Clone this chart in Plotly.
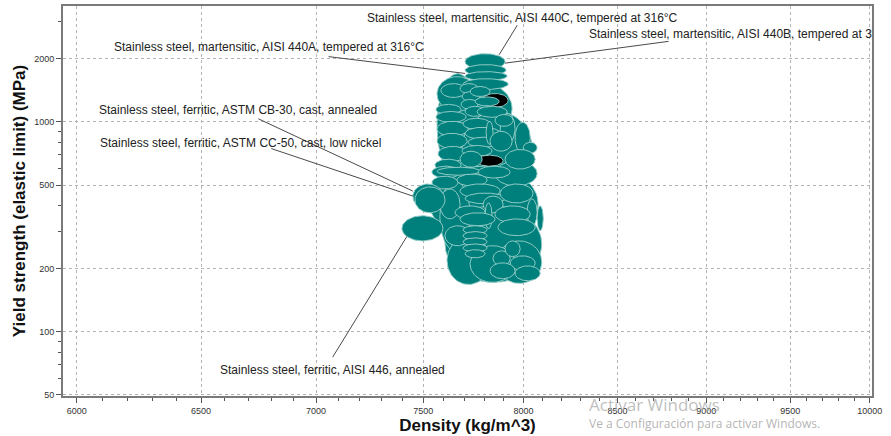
import math
import numpy as np
import plotly.graph_objects as go

# ---------------- data ----------------
# Each material is a range bubble: density range (kg/m^3) x yield-strength range (MPa),
# listed in drawing order (back to front).
dens_lo = [7567, 7606, 7690, 7532, 7606, 7581,
           7616, 7865, 7730, 7855, 7567, 7790, 7760, 7705, 7705, 7705,
           7695, 7586, 7562, 7562, 7567, 7567, 7572, 7557, 7542, 7567,
           7542, 7680, 7690, 7685, 7730, 7705, 7765, 7755, 7695, 7705,
           7720, 7690, 7810, 7881, 7855, 7830, 7957, 7999, 7906, 7680,
           7770, 7665, 7680, 7705, 7581, 7881, 7795, 7805, 8019, 8071,
           7655, 7680, 7855, 7870, 7606, 7695, 7695, 7695, 7695, 7705,
           7845, 7906, 7932, 7830, 7957, 7450, 7460, 7398]
dens_hi = [7770, 7942, 8045, 8076, 8095, 7730,
           7830, 8095, 7957, 8071, 7765, 7922, 7896, 7906, 7911, 7917,
           7922, 7710, 7685, 7710, 7720, 7715, 7720, 7685, 7680, 7780,
           7670, 7770, 7780, 7770, 7830, 7805, 7917, 7876, 7830, 7881,
           7870, 7840, 7845, 7957, 7947, 7942, 8035, 8071, 8061, 7790,
           7932, 7815, 7881, 7906, 7680, 8050, 7896, 7840, 8071, 8103,
           7805, 7855, 8035, 8061, 7730, 7815, 7815, 7815, 7815, 7805,
           7932, 7983, 8061, 7957, 8087, 7596, 7606, 7596]
ys_lo = [540, 854, 495, 271, 172, 243,
         168, 170, 172, 495, 1121, 1173, 615, 1775, 1661, 1573,
         1426, 1307, 1085, 995, 854, 747, 650, 583, 540, 557,
         479, 1365, 1251, 1148, 1321, 1062, 1051, 1190, 921, 827,
         756, 686, 781, 790, 952, 725, 709, 709, 596, 608,
         540, 495, 434, 407, 345, 411, 369, 310, 320, 303,
         345, 320, 331, 287, 257, 293, 274, 257, 240, 225,
         206, 228, 196, 179, 175, 385, 369, 271]
ys_hi = [1698, 1556, 1121, 615, 398, 522,
         284, 271, 257, 650, 1642, 1365, 694, 2112, 1874, 1735,
         1606, 1522, 1211, 1121, 1006, 882, 764, 664, 615, 608,
         551, 1522, 1395, 1279, 1474, 1186, 1186, 1315, 1040, 942,
         845, 772, 1006, 1097, 1085, 902, 995, 799, 739, 725,
         615, 564, 506, 458, 479, 506, 443, 411, 429, 398,
         398, 369, 398, 345, 320, 320, 300, 280, 262, 246,
         243, 271, 230, 213, 206, 506, 490, 357]
highlighted = [11, 12]  # indices of the two highlighted (black) bubbles

# labelled materials: point on the bubble the leader line touches
label_text = [
    "Stainless steel, martensitic, AISI 440C, tempered at 316°C",
    "Stainless steel, martensitic, AISI 440B, tempered at 3",
    "Stainless steel, martensitic, AISI 440A, tempered at 316°C",
    "Stainless steel, ferritic, ASTM CB-30, cast, annealed",
    "Stainless steel, ferritic, ASTM CC-50, cast, low nickel",
    "Stainless steel, ferritic, AISI 446, annealed",
]
label_density = [7876, 7906, 7705, 7450, 7450, 7421]
label_strength = [2088, 1904, 1701, 468, 443, 284]

x_ticks = [6000, 6500, 7000, 7500, 8000, 8500, 9000, 9500, 10000]
y_ticks = [50, 100, 200, 500, 1000, 2000]
y_minor = [60, 70, 80, 90, 300, 400, 600, 700, 800, 900, 3000]
x_minor = [v for v in range(6000, 10001, 100) if v % 500 != 0]

# ---------------- styling / layout ----------------
TEAL = "#00807c"
EDGE = "rgba(150,206,200,0.95)"
FONT = "Liberation Sans, Arial, sans-serif"

fig = go.Figure()

theta = np.linspace(0, 2 * np.pi, 73)
for i, (d0, d1, s0, s1) in enumerate(zip(dens_lo, dens_hi, ys_lo, ys_hi)):
    cx, rx = (math.log10(d0) + math.log10(d1)) / 2, (math.log10(d1) - math.log10(d0)) / 2
    cy, ry = (math.log10(s0) + math.log10(s1)) / 2, (math.log10(s1) - math.log10(s0)) / 2
    xs = 10 ** (cx + rx * np.cos(theta))
    ys = 10 ** (cy + ry * np.sin(theta))
    fill = "#000000" if i in highlighted else TEAL
    fig.add_trace(go.Scatter(
        x=xs, y=ys, mode="lines", fill="toself", fillcolor=fill,
        line=dict(color=EDGE, width=1), showlegend=False, hoverinfo="skip"))

# leader line tails (pixel offsets from the bubble point)
offsets = [(19, -31), (165, -22), (-138, -17), (-156, -73), (-143, -48), (-75, 122)]
annotations = []
for d, s, (ax, ay) in zip(label_density, label_strength, offsets):
    annotations.append(dict(
        x=math.log10(d), y=math.log10(s), xref="x", yref="y", text="",
        showarrow=True, arrowhead=0, arrowwidth=1, arrowcolor="#4a4a4a",
        ax=ax, ay=ay, axref="pixel", ayref="pixel", standoff=0, startstandoff=0))

# label text placement (paper coords) : (x, y, xanchor)
text_pos = [(0.568, 0.968, "center"), (0.6477, 0.929, "left"), (0.0602, 0.8936, "left"),
            (0.0420, 0.7339, "left"), (0.0436, 0.6487, "left"), (0.1916, 0.0663, "left")]
for t, (px, py, xa) in zip(label_text, text_pos):
    annotations.append(dict(
        x=px, y=py, xref="paper", yref="paper", text=t, showarrow=False,
        xanchor=xa, yanchor="middle", font=dict(family=FONT, size=12, color="#222")))

# Windows activation watermark seen in the reference screenshot
annotations.append(dict(x=0.6477, y=-0.022, xref="paper", yref="paper", text="Activar Windows",
                        showarrow=False, xanchor="left", yanchor="middle",
                        font=dict(family="Open Sans, Noto Sans, sans-serif", size=17,
                                  color="rgba(170,170,170,0.75)")))
annotations.append(dict(x=0.6477, y=-0.071, xref="paper", yref="paper",
                        text="Ve a Configuración para activar Windows.",
                        showarrow=False, xanchor="left", yanchor="middle",
                        font=dict(family="Open Sans, Noto Sans, sans-serif", size=12,
                                  color="rgba(160,160,160,0.8)")))

axis_common = dict(
    showline=True, linecolor="#7a7a7a", linewidth=2, mirror=True,
    ticks="outside", ticklen=5, tickcolor="#555", tickwidth=1,
    showgrid=True, gridcolor="#b4b4b4", gridwidth=1, griddash="3px,3px",
    zeroline=False, tickfont=dict(family=FONT, size=9, color="#333"),
)

fig.update_layout(
    width=891, height=436,
    margin=dict(l=63, r=19, t=4, b=40),
    paper_bgcolor="white", plot_bgcolor="white",
    annotations=annotations, showlegend=False,
    xaxis=dict(type="log", range=[3.7743, 4.0006], tickmode="array",
               tickvals=x_ticks, ticktext=[str(v) for v in x_ticks],
               title=dict(text="Density (kg/m^3)", standoff=4,
                          font=dict(family=FONT, size=17, color="#111", weight="bold")),
               minor=dict(tickmode="array", tickvals=x_minor, ticks="outside", ticklen=3,
                          tickcolor="#555", showgrid=False),
               **axis_common),
    yaxis=dict(type="log", range=[1.694, 3.552], tickmode="array",
               tickvals=y_ticks, ticktext=[str(v) for v in y_ticks],
               title=dict(text="Yield strength (elastic limit) (MPa)", standoff=4,
                          font=dict(family=FONT, size=17, color="#111", weight="bold")),
               minor=dict(tickmode="array", tickvals=y_minor, ticks="outside", ticklen=3,
                          tickcolor="#555", showgrid=False),
               **axis_common),
)

fig.write_html("out.html", config={"displayModeBar": False},
               post_script="document.body.style.margin='0px';document.body.style.padding='0px';")
